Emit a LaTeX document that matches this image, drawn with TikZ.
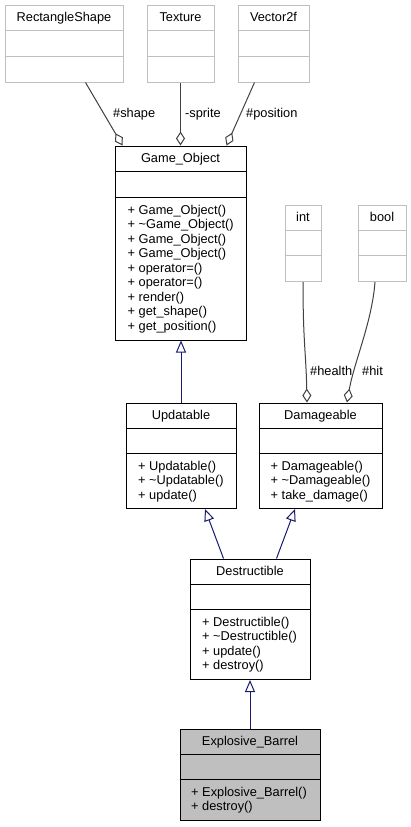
\documentclass[tikz,border=0pt]{standalone}
\usepackage{fontspec}
\setmainfont{Liberation Sans}
\usetikzlibrary{arrows.meta}
\definecolor{edgeblue}{HTML}{191970}
\definecolor{aggray}{HTML}{404040}
\definecolor{lightborder}{HTML}{BFBFBF}
\definecolor{barrelfill}{HTML}{BFBFBF}
\tikzset{
  cls/.style={draw=black, line width=1pt, inner sep=0pt, fill=white},
  extcls/.style={draw=lightborder, line width=1pt, inner sep=0pt, fill=white},
  sepline/.style={draw=black, line width=1pt},
  extsep/.style={draw=lightborder, line width=1pt},
  txt/.style={inner sep=0pt, font=\fontsize{12.8}{14.5}\selectfont},
  inh/.style={draw=edgeblue, line width=1pt, -{Triangle[length=12pt, width=10pt, fill=white]}},
  agg/.style={draw=aggray, line width=1pt, -{Diamond[length=14pt, width=9pt, fill=white]}}
}
\newcommand\umlmeths[4]{%
  \foreach \m [count=\i] in {#4} {\node[txt, anchor=base west] (#1m\i) at (#2, {#3+14.5*(\i-1)}) {\m};}%
}
\newcommand\seps[4]{% name, style, first offset, second offset
  \draw[#2] ([yshift=-#3pt]#1.north west) -- ([yshift=-#3pt]#1.north east);
  \draw[#2] ([yshift=-#4pt]#1.north west) -- ([yshift=-#4pt]#1.north east);
}
\begin{document}
\begin{tikzpicture}[x=1pt, y=-1pt]
\fill[white] (0,0) rectangle (411,827);
\useasboundingbox (0,0) rectangle (411,827);

% external classes
\node[extcls, minimum width=118pt, minimum height=77pt] (rs) at (64,43.5) {};
\seps{rs}{extsep}{26}{52}
\node[txt, anchor=base] (rs-t) at (64,21.3) {RectangleShape};

\node[extcls, minimum width=67pt, minimum height=77pt] (tex) at (180.5,43.5) {};
\seps{tex}{extsep}{26}{52}
\node[txt, anchor=base] (tex-t) at (180.5,21.3) {Texture};

\node[extcls, minimum width=71pt, minimum height=77pt] (vec) at (273.5,43.5) {};
\seps{vec}{extsep}{26}{52}
\node[txt, anchor=base] (vec-t) at (273.5,21.3) {Vector2f};

\node[extcls, minimum width=36pt, minimum height=76.5pt] (int) at (303,243.25) {};
\seps{int}{extsep}{25.5}{51}
\node[txt, anchor=base] (int-t) at (303,221.3) {int};

\node[extcls, minimum width=48pt, minimum height=76.5pt] (bool) at (382,243.25) {};
\seps{bool}{extsep}{25.5}{51}
\node[txt, anchor=base] (bool-t) at (382,221.3) {bool};

% Game_Object
\node[cls, minimum width=131pt, minimum height=194pt] (go) at (180.5,243) {};
\seps{go}{sepline}{26}{52}
\node[txt, anchor=base] (go-t) at (180.5,162.3) {Game\_Object};
\umlmeths{go}{127.5}{214.3}{{+ Game\_Object()},{+ \textasciitilde Game\_Object()},{+ Game\_Object()},{+ Game\_Object()},{+ operator=()},{+ operator=()},{+ render()},{+ get\_shape()},{+ get\_position()}}

% Updatable
\node[cls, minimum width=110pt, minimum height=105.5pt] (upd) at (181,455.75) {};
\seps{upd}{sepline}{25.5}{51}
\node[txt, anchor=base] (upd-t) at (181,419.3) {Updatable};
\umlmeths{upd}{138}{470.3}{{+ Updatable()},{+ \textasciitilde Updatable()},{+ update()}}

% Damageable
\node[cls, minimum width=123pt, minimum height=105.5pt] (dam) at (320.5,455.75) {};
\seps{dam}{sepline}{25.5}{51}
\node[txt, anchor=base] (dam-t) at (320.5,419.3) {Damageable};
\umlmeths{dam}{270.5}{470.3}{{+ Damageable()},{+ \textasciitilde Damageable()},{+ take\_damage()}}

% Destructible
\node[cls, minimum width=120pt, minimum height=120.5pt] (des) at (250,619.25) {};
\seps{des}{sepline}{25.5}{51}
\node[txt, anchor=base] (des-t) at (250,575.3) {Destructible};
\umlmeths{des}{202}{626.3}{{+ Destructible()},{+ \textasciitilde Destructible()},{+ update()},{+ destroy()}}

% Explosive_Barrel
\node[cls, fill=barrelfill, minimum width=140pt, minimum height=91pt] (exp) at (250,774.5) {};
\seps{exp}{sepline}{25.5}{51}
\node[txt, anchor=base] (exp-t) at (250,745.3) {Explosive\_Barrel};
\umlmeths{exp}{191}{796.3}{{+ Explosive\_Barrel()},{+ destroy()}}

% aggregation edges
\draw[agg] ([xshift=81pt]rs.south west) -- ([xshift=8pt]go.north west);
\draw[agg] (tex.south) -- (tex.south |- go.north);
\draw[agg] ([xshift=17pt]vec.south west) -- ([xshift=-20pt]go.north east);
\draw[agg] (int.south) .. controls +(0,60) and +(-1,-50) .. ([xshift=-13.5pt]dam.north);
\draw[agg] ([xshift=-7pt]bool.south) .. controls +(-3,40) and +(7,-40) .. ([xshift=26.5pt]dam.north);

\node[txt, anchor=base west] (l-shape) at (113,117) {\#shape};
\node[txt, anchor=base west] (l-sprite) at (185,117) {-sprite};
\node[txt, anchor=base west] (l-pos) at (246,117) {\#position};
\node[txt, anchor=base west] (l-health) at (310,375) {\#health};
\node[txt, anchor=base west] (l-hit) at (362,375) {\#hit};

% inheritance edges
\draw[inh] (upd.north) -- (upd.north |- go.south);
\draw[inh] ([xshift=34pt]des.north west) -- ([xshift=24pt]upd.south);
\draw[inh] ([xshift=-34pt]des.north east) -- ([xshift=-25.5pt]dam.south);
\draw[inh] (exp.north) -- (des.south);
\end{tikzpicture}
\end{document}
